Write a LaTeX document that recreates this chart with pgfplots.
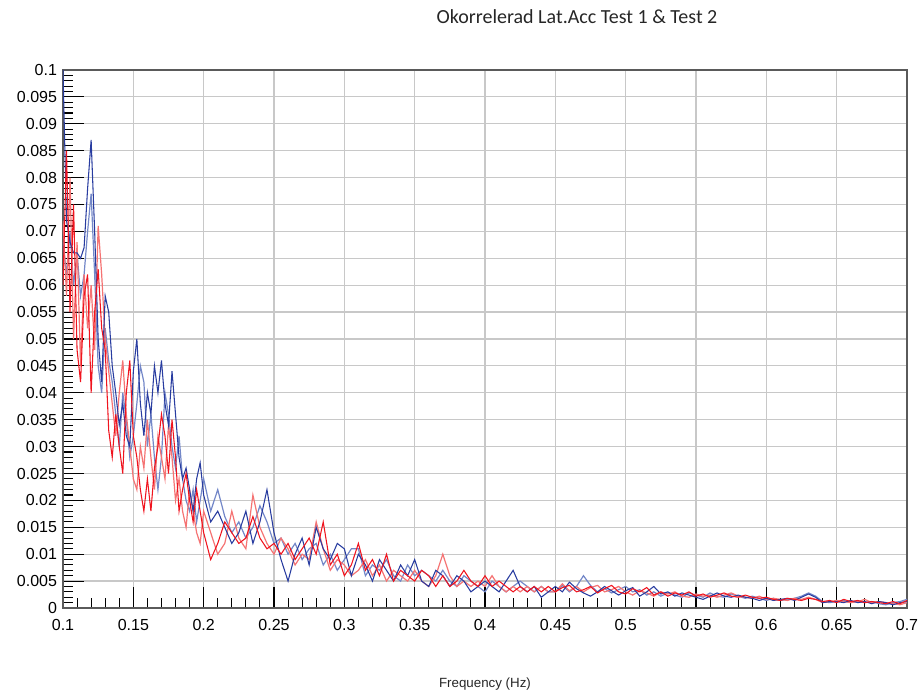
\documentclass[border=0pt]{standalone}
\usepackage{fontspec}
\setmainfont{Liberation Sans}
\newfontfamily\carlito{Carlito}
\usepackage{pgfplots}
\usepackage{pgfplotstable}
\pgfplotsset{compat=1.18}
\definecolor{bdark}{RGB}{40,60,160}
\definecolor{blight}{RGB}{115,135,200}
\definecolor{rdark}{RGB}{240,20,30}
\definecolor{rlight}{RGB}{245,115,115}
\definecolor{gridc}{RGB}{200,200,200}
\definecolor{axc}{RGB}{90,90,90}
\pgfplotstableread{
x b1 b2 r1 r2
0.1000 0.100 0.068 0.060 0.072
0.1025 0.072 0.062 0.085 0.058
0.1050 0.068 0.070 0.055 0.080
0.1075 0.066 0.060 0.075 0.050
0.1100 0.066 0.066 0.048 0.068
0.1125 0.065 0.058 0.042 0.045
0.1150 0.067 0.062 0.058 0.062
0.1175 0.078 0.070 0.062 0.052
0.1200 0.087 0.077 0.040 0.060
0.1225 0.070 0.062 0.055 0.048
0.1250 0.050 0.045 0.063 0.071
0.1275 0.042 0.040 0.052 0.062
0.1300 0.058 0.052 0.048 0.050
0.1325 0.055 0.046 0.033 0.044
0.1350 0.045 0.042 0.028 0.038
0.1375 0.040 0.036 0.036 0.032
0.1400 0.034 0.030 0.030 0.040
0.1425 0.038 0.040 0.025 0.046
0.1450 0.032 0.035 0.040 0.036
0.1475 0.030 0.028 0.046 0.030
0.1500 0.044 0.032 0.032 0.024
0.1525 0.050 0.038 0.028 0.022
0.1550 0.038 0.045 0.022 0.030
0.1575 0.032 0.042 0.018 0.026
0.1600 0.040 0.030 0.024 0.035
0.1625 0.036 0.036 0.018 0.028
0.1650 0.045 0.028 0.026 0.022
0.1675 0.040 0.022 0.030 0.032
0.1700 0.046 0.028 0.036 0.028
0.1725 0.038 0.040 0.032 0.024
0.1750 0.034 0.036 0.025 0.034
0.1775 0.044 0.030 0.035 0.028
0.1800 0.036 0.026 0.028 0.020
0.1825 0.028 0.032 0.018 0.024
0.1850 0.024 0.024 0.022 0.018
0.1875 0.026 0.020 0.025 0.015
0.1900 0.022 0.018 0.020 0.022
0.1925 0.018 0.022 0.016 0.018
0.1950 0.024 0.016 0.022 0.014
0.1975 0.027 0.020 0.018 0.012
0.2000 0.021 0.024 0.014 0.018
0.205 0.016 0.018 0.009 0.014
0.210 0.018 0.022 0.012 0.010
0.215 0.015 0.017 0.016 0.012
0.220 0.012 0.014 0.014 0.018
0.225 0.014 0.016 0.012 0.013
0.230 0.018 0.013 0.013 0.011
0.235 0.012 0.015 0.017 0.021
0.240 0.016 0.019 0.013 0.015
0.245 0.022 0.016 0.011 0.012
0.250 0.014 0.012 0.012 0.010
0.255 0.009 0.013 0.010 0.013
0.260 0.005 0.010 0.012 0.011
0.265 0.010 0.012 0.009 0.008
0.270 0.013 0.009 0.011 0.010
0.275 0.008 0.011 0.013 0.009
0.280 0.015 0.012 0.010 0.016
0.285 0.011 0.008 0.016 0.011
0.290 0.009 0.010 0.008 0.007
0.295 0.012 0.007 0.010 0.009
0.300 0.011 0.009 0.006 0.008
0.305 0.006 0.011 0.008 0.006
0.310 0.010 0.011 0.012 0.007
0.315 0.008 0.006 0.007 0.009
0.320 0.005 0.008 0.009 0.006
0.325 0.009 0.007 0.006 0.008
0.330 0.007 0.009 0.010 0.005
0.335 0.005 0.006 0.005 0.007
0.340 0.008 0.005 0.007 0.006
0.345 0.006 0.008 0.006 0.005
0.350 0.009 0.006 0.005 0.007
0.355 0.005 0.007 0.007 0.005
0.360 0.004 0.006 0.006 0.004
0.365 0.007 0.005 0.004 0.006
0.370 0.006 0.007 0.006 0.010
0.375 0.004 0.005 0.004 0.006
0.380 0.006 0.004 0.005 0.004
0.385 0.005 0.006 0.007 0.005
0.390 0.003 0.005 0.005 0.004
0.395 0.004 0.004 0.004 0.005
0.400 0.005 0.003 0.006 0.004
0.405 0.004 0.005 0.004 0.006
0.410 0.003 0.004 0.005 0.004
0.415 0.005 0.003 0.004 0.003
0.420 0.007 0.004 0.003 0.004
0.425 0.004 0.005 0.004 0.003
0.430 0.003 0.004 0.003 0.004
0.435 0.004 0.003 0.004 0.003
0.440 0.002 0.004 0.003 0.004
0.445 0.003 0.003 0.004 0.003
0.450 0.004 0.003 0.003 0.003
0.455 0.0030 0.0042 0.0038 0.0045
0.460 0.0048 0.0030 0.0042 0.0032
0.465 0.0036 0.0040 0.0030 0.0040
0.470 0.0028 0.0060 0.0034 0.0030
0.475 0.0022 0.0042 0.0040 0.0038
0.480 0.0030 0.0030 0.0028 0.0042
0.485 0.0040 0.0036 0.0036 0.0030
0.490 0.0032 0.0028 0.0042 0.0034
0.495 0.0024 0.0034 0.0030 0.0040
0.500 0.0032 0.0040 0.0026 0.0030
0.505 0.0038 0.0030 0.0036 0.0024
0.510 0.0022 0.0034 0.0030 0.0032
0.515 0.0030 0.0024 0.0038 0.0028
0.520 0.0040 0.0030 0.0024 0.0022
0.525 0.0026 0.0022 0.0030 0.0030
0.530 0.0030 0.0028 0.0022 0.0026
0.535 0.0022 0.0024 0.0028 0.0030
0.540 0.0028 0.0020 0.0024 0.0022
0.545 0.0024 0.0028 0.0030 0.0020
0.550 0.0020 0.0024 0.0022 0.0026
0.555 0.0016 0.0020 0.0026 0.0022
0.560 0.0022 0.0028 0.0020 0.0024
0.565 0.0028 0.0022 0.0024 0.0020
0.570 0.0022 0.0020 0.0028 0.0024
0.575 0.0020 0.0026 0.0022 0.0028
0.580 0.0024 0.0022 0.0020 0.0022
0.585 0.0020 0.0018 0.0024 0.0020
0.590 0.0018 0.0022 0.0020 0.0018
0.595 0.0014 0.0018 0.0018 0.0022
0.600 0.0018 0.0014 0.0020 0.0016
0.605 0.0014 0.0018 0.0016 0.0018
0.610 0.0016 0.0014 0.0014 0.0016
0.615 0.0018 0.0016 0.0018 0.0014
0.620 0.0014 0.0018 0.0016 0.0018
0.625 0.0020 0.0022 0.0014 0.0016
0.630 0.0026 0.0028 0.0018 0.0020
0.635 0.0020 0.0022 0.0016 0.0016
0.640 0.0010 0.0012 0.0012 0.0010
0.645 0.0012 0.0010 0.0014 0.0012
0.650 0.0012 0.0012 0.0010 0.0014
0.655 0.0010 0.0014 0.0016 0.0012
0.660 0.0014 0.0010 0.0012 0.0010
0.665 0.0010 0.0012 0.0014 0.0012
0.670 0.0012 0.0010 0.0010 0.0016
0.675 0.0008 0.0012 0.0012 0.0010
0.680 0.0012 0.0008 0.0010 0.0012
0.685 0.0010 0.0006 0.0008 0.0010
0.690 0.0006 0.0010 0.0012 0.0008
0.695 0.0010 0.0012 0.0008 0.0006
0.700 0.0012 0.0016 0.0014 0.0010
}\data
\begin{document}
\begin{tikzpicture}
\useasboundingbox (-47.25pt,-65.25pt) rectangle (642.75pt,456pt);
\begin{axis}[
  at={(0pt,0pt)}, anchor=south west,
  scale only axis, width=633pt, height=403.5pt,
  xmin=0.1, xmax=0.7, ymin=0, ymax=0.1,
  xtick distance=0.05, ytick distance=0.005,
  minor x tick num=4, minor y tick num=4,
  xtick pos=bottom, ytick pos=left,
  tick align=inside,
  major tick length=15.75pt, minor tick length=7.5pt,
  every tick/.style={black, line width=0.8pt},
  grid=major,
  major grid style={gridc, line width=0.9pt},
  minor grid style={draw=none},
  axis line style={axc, line width=1.2pt},
  scaled x ticks=false, scaled y ticks=false,
  xticklabel style={/pgf/number format/fixed, /pgf/number format/precision=3},
  yticklabel style={/pgf/number format/fixed, /pgf/number format/precision=3},
  /pgf/number format/assume math mode=true,
  tick label style={font=\fontsize{12}{14}\selectfont, black},
  xticklabel style={yshift=-5pt},
  yticklabel style={xshift=-1pt},
  clip=true,
]
\addplot[blight, line width=0.9pt] table[x=x, y=b2] {\data};
\addplot[rlight, line width=0.9pt] table[x=x, y=r2] {\data};
\addplot[bdark, line width=0.8pt] table[x=x, y=b1] {\data};
\addplot[rdark, line width=0.8pt] table[x=x, y=r1] {\data};
\end{axis}
\node[font=\carlito\fontsize{15}{18}\selectfont, text=black!85] at (385.5pt,443.25pt) {Okorrelerad Lat.Acc Test 1 \& Test 2};
\node[font=\fontsize{10}{12}\selectfont, text=black!85] at (316.5pt,-57pt) {Frequency (Hz)};
\end{tikzpicture}
\end{document}
